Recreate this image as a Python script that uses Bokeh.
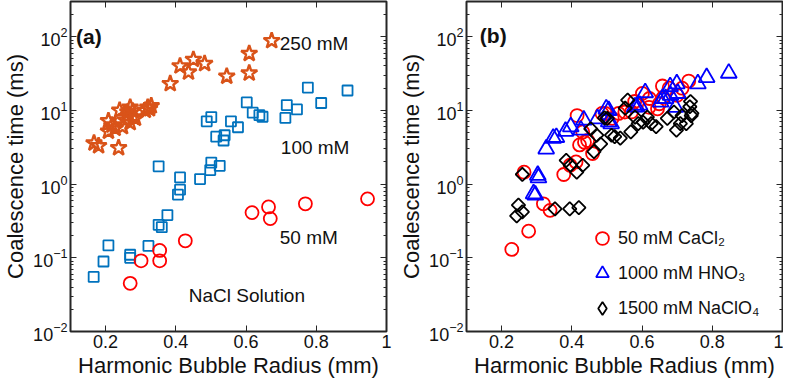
import numpy as np
from bokeh.plotting import figure
from bokeh.layouts import row
from bokeh.models import (LinearAxis, FixedTicker, LogTicker, Label, Range1d,
                          CustomJSTickFormatter, Legend, LegendItem, ColumnDataSource)
from bokeh.embed import file_html
from bokeh.resources import INLINE

FONT = "Liberation Sans"

# ---------------- Panel (a): NaCl solution ----------------
nacl250_r = [0.673, 0.609, 0.609, 0.545, 0.450, 0.482, 0.412, 0.436, 0.384, 0.320,
             0.325, 0.313, 0.270, 0.240, 0.265, 0.279, 0.256, 0.208, 0.218, 0.227,
             0.208, 0.167, 0.180, 0.237, 0.263, 0.277, 0.285, 0.270, 0.248, 0.330]
nacl250_t = [88, 59, 32, 29, 49, 43, 40, 33, 23, 11,
             10.5, 10, 11, 10, 8.6, 8.1, 7.4, 7.2, 6.3, 5.7,
             5.2, 3.6, 3.3, 3.1, 9.5, 9.8, 7.8, 6.8, 6.0, 11.5]

nacl100_r = [0.776, 0.889, 0.814, 0.602, 0.716, 0.745, 0.619, 0.638, 0.647, 0.712,
             0.501, 0.488, 0.557, 0.577, 0.515, 0.539, 0.536, 0.351, 0.501, 0.498,
             0.525, 0.412, 0.469, 0.412, 0.406, 0.376, 0.351, 0.360, 0.322, 0.208,
             0.270, 0.270, 0.194, 0.166]
nacl100_t = [20.4, 18.6, 12.6, 12.8, 11.8, 10.3, 9.3, 8.6, 8.2, 7.9,
             8.1, 7.1, 7.1, 5.9, 4.4, 4.6, 3.9, 1.74, 1.96, 1.55,
             1.77, 1.23, 1.17, 0.84, 0.72, 0.38, 0.28, 0.26, 0.145, 0.147,
             0.11, 0.10, 0.089, 0.055]

nacl50_r = [0.946, 0.769, 0.617, 0.664, 0.669, 0.427, 0.354, 0.354, 0.301, 0.270]
nacl50_t = [0.63, 0.54, 0.41, 0.49, 0.34, 0.17, 0.126, 0.091, 0.091, 0.045]

# ---------------- Panel (b): other electrolytes ----------------
cacl2_r = [0.733, 0.714, 0.658, 0.677, 0.601, 0.621, 0.649, 0.644, 0.579, 0.570,
           0.551, 0.533, 0.496, 0.486, 0.415, 0.431, 0.422, 0.445, 0.436, 0.459,
           0.412, 0.395, 0.377, 0.264, 0.319, 0.338, 0.277, 0.229, 0.515, 0.700,
           0.620, 0.660]
cacl2_t = [25, 20, 21.4, 20, 17, 14.5, 12.3, 10.5, 13.2, 9.5,
           9.5, 9.1, 9.1, 9.1, 8.5, 5.1, 3.4, 3.9, 3.7, 2.6,
           2.0, 1.8, 1.35, 1.45, 0.54, 0.44, 0.23, 0.13, 7.8, 16,
           11, 15]

hno3_r = [0.847, 0.784, 0.759, 0.699, 0.680, 0.702, 0.681, 0.667, 0.653, 0.609,
          0.593, 0.579, 0.695, 0.498, 0.512, 0.473, 0.434, 0.426, 0.397, 0.382,
          0.356, 0.347, 0.327, 0.303, 0.305, 0.296, 0.291, 0.505, 0.505, 0.584,
          0.658]
hno3_t = [32, 28, 23, 23, 21, 17, 16, 14.5, 13, 17.4,
          11.8, 11.1, 11, 10.5, 6.6, 7.7, 7.4, 5.4, 6.0, 5.2,
          4.3, 4.2, 3.0, 1.32, 1.22, 0.71, 0.74, 10, 7.0, 11.2,
          14.5]

naclo4_r = [0.738, 0.736, 0.742, 0.740, 0.714, 0.709, 0.698, 0.726, 0.691, 0.672,
            0.640, 0.626, 0.615, 0.603, 0.589, 0.580, 0.559, 0.552, 0.568, 0.538,
            0.522, 0.513, 0.501, 0.493, 0.471, 0.454, 0.482, 0.463, 0.431, 0.414,
            0.384, 0.396, 0.259, 0.248, 0.259, 0.243, 0.352, 0.394, 0.420]
naclo4_t = [13.2, 11.2, 9.1, 8.5, 8.5, 6.6, 5.4, 6.6, 9.5, 7.8,
            6.0, 6.6, 8.1, 6.9, 6.6, 8.1, 13.8, 10.7, 5.1, 4.2,
            4.4, 4.6, 7.8, 7.9, 4.6, 5.6, 3.5, 2.75, 1.8, 1.45,
            2.1, 1.8, 1.35, 0.52, 0.42, 0.37, 0.46, 0.46, 0.48]

legend_labels = ["50 mM CaCl\u2082", "1000 mM HNO\u2083", "1500 mM NaClO\u2084"]

x_ticks = [0.2, 0.4, 0.6, 0.8, 1.0]
x_tick_labels = {0.2: "0.2", 0.4: "0.4", 0.6: "0.6", 0.8: "0.8", 1: "1"}
AXC = "#262626"


def make_fig(border_left, border_right):
    p = figure(x_range=(0.1, 1.0), y_range=(0.01, 300), y_axis_type="log",
               frame_width=316, frame_height=330,
               min_border_left=border_left, min_border_right=border_right,
               min_border_top=1, min_border_bottom=0,
               output_backend="svg", toolbar_location=None)
    p.grid.visible = False
    p.outline_line_color = AXC
    p.outline_line_width = 2
    p.outline_line_alpha = 1
    p.background_fill_color = "white"
    p.border_fill_color = "white"

    p.xaxis.ticker = FixedTicker(ticks=x_ticks)
    p.xaxis.major_label_overrides = x_tick_labels
    p.xaxis.axis_label = "Harmonic Bubble Radius (mm)"
    p.yaxis.axis_label = "Coalescence time (ms)"
    p.yaxis.ticker = LogTicker(desired_num_ticks=5, num_minor_ticks=10)

    for ax in [p.xaxis[0], p.yaxis[0]]:
        ax.axis_line_color = None
        ax.major_tick_in = 6
        ax.major_tick_out = 0
        ax.minor_tick_in = 3
        ax.minor_tick_out = 0
        ax.major_tick_line_color = AXC
        ax.minor_tick_line_color = AXC
        ax.major_tick_line_width = 1
        ax.major_label_text_font = FONT
        ax.major_label_text_font_size = "18px"
        ax.major_label_text_color = "#111111"
        ax.axis_label_text_font = FONT
        ax.axis_label_text_font_size = "22px"
        ax.axis_label_text_font_style = "normal"
        ax.axis_label_text_color = "#111111"
        ax.major_label_standoff = 3
        ax.axis_label_standoff = 2
    p.xaxis.minor_tick_line_color = None

    blank = CustomJSTickFormatter(code="return ''")
    top = LinearAxis(ticker=FixedTicker(ticks=x_ticks), formatter=blank,
                     axis_line_color=None, major_tick_in=6, major_tick_out=0,
                     minor_tick_line_color=None, major_tick_line_color=AXC,
                     major_label_standoff=0)
    p.add_layout(top, "above")
    right = LinearAxis(ticker=LogTicker(desired_num_ticks=5, num_minor_ticks=10),
                       formatter=blank,
                       axis_line_color=None, major_tick_in=6, major_tick_out=0,
                       minor_tick_in=3, minor_tick_out=0,
                       major_tick_line_color=AXC, minor_tick_line_color=AXC,
                       major_label_standoff=0)
    p.add_layout(right, "right")
    return p


# ---------- panel (a) ----------
pa = make_fig(60, 10)
pa.scatter(nacl250_r, nacl250_t, marker="star", size=17, fill_color=None,
           line_color="#D95319", line_width=2.4)
pa.scatter(nacl100_r, nacl100_t, marker="square", size=10, fill_color=None,
           line_color="#0072BD", line_width=1.8)
pa.scatter(nacl50_r, nacl50_t, marker="circle", size=13, fill_color=None,
           line_color="#FF0000", line_width=1.8)

lab_style = dict(text_font=FONT, text_font_size="19px", text_color="#111111",
                 text_baseline="middle", text_align="left")
pa.add_layout(Label(x=0.696, y=81, text="250 mM", **lab_style))
pa.add_layout(Label(x=0.699, y=3.15, text="100 mM", **lab_style))
pa.add_layout(Label(x=0.696, y=0.19, text="50 mM", **lab_style))
pa.add_layout(Label(x=0.437, y=0.031, text="NaCl Solution", **lab_style))
pa.add_layout(Label(x=0.116, y=100, text="(a)", text_font=FONT, text_font_size="21px",
                    text_font_style="bold", text_color="#111111",
                    text_baseline="middle", text_align="left"))

# ---------- panel (b) ----------
pb = make_fig(65, 1)
pb.extra_x_ranges = {"legend_only": Range1d(start=10, end=11)}
r1 = pb.scatter(cacl2_r, cacl2_t, marker="circle", size=13, fill_color=None,
                line_color="#FF0000", line_width=1.8)
r2 = pb.scatter(hno3_r, hno3_t, marker="triangle", size=16, fill_color=None,
                line_color="#0000FF", line_width=1.8)
src3 = ColumnDataSource(dict(x=naclo4_r, y=naclo4_t))
r3 = pb.scatter("x", "y", source=src3, marker="square", angle=np.pi / 4, size=9.5,
                fill_color=None, line_color="#000000", line_width=1.8)
# legend stand-in (legend glyphs ignore angle): same data on an off-frame range
r3_leg = pb.scatter("x", "y", source=src3, x_range_name="legend_only",
                    marker="diamond", size=13, fill_color=None,
                    line_color="#000000", line_width=1.8)
pb.add_layout(Label(x=0.138, y=105, text="(b)", text_font=FONT, text_font_size="21px",
                    text_font_style="bold", text_color="#111111",
                    text_baseline="middle", text_align="left"))

lg = Legend(items=[LegendItem(label=legend_labels[0], renderers=[r1]),
                   LegendItem(label=legend_labels[1], renderers=[r2]),
                   LegendItem(label=legend_labels[2], renderers=[r3_leg])])
lg.location = (120, 7)
lg.background_fill_alpha = 0
lg.border_line_color = None
lg.padding = 0
lg.margin = 0
lg.spacing = 3
lg.glyph_width = 32
lg.glyph_height = 32
lg.label_height = 32
lg.label_standoff = 0
lg.label_text_font = FONT
lg.label_text_font_size = "18px"
lg.label_text_color = "#111111"
pb.add_layout(lg)

layout = row(pa, pb)
open("out.html", "w").write(file_html(layout, INLINE))
